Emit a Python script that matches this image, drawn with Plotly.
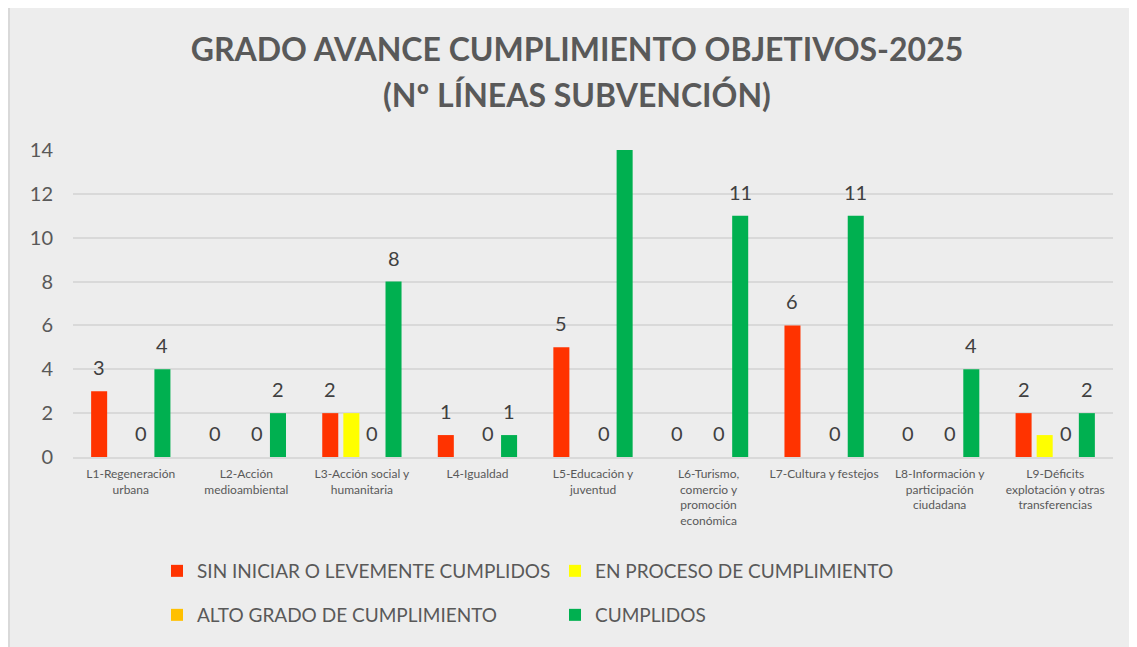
import plotly.graph_objects as go

categories = [
    "L1-Regeneración<br>urbana",
    "L2-Acción<br>medioambiental",
    "L3-Acción social y<br>humanitaria",
    "L4-Igualdad",
    "L5-Educación y<br>juventud",
    "L6-Turismo,<br>comercio y<br>promoción<br>económica",
    "L7-Cultura y festejos",
    "L8-Información y<br>participación<br>ciudadana",
    "L9-Déficits<br>explotación y otras<br>transferencias",
]
sin_iniciar = [3, 0, 2, 1, 5, 0, 6, 0, 2]
en_proceso = [0, 0, 2, 0, 0, 0, 0, 0, 1]
alto_grado = [0, 0, 0, 0, 0, 0, 0, 0, 0]
cumplidos = [4, 2, 8, 1, 14, 11, 11, 4, 2]

series_names = [
    "SIN INICIAR O LEVEMENTE CUMPLIDOS",
    "EN PROCESO DE CUMPLIMIENTO",
    "ALTO GRADO DE CUMPLIMIENTO",
    "CUMPLIDOS",
]
colors = ["#FF3300", "#FFFF00", "#FFC000", "#00B050"]
show_labels = [True, False, True, True]
legend_ids = ["legend", "legend", "legend2", "legend2"]
series_values = [sin_iniciar, en_proceso, alto_grado, cumplidos]

Y_MAX = 14
BARGAP = 0.27
BARGROUPGAP = 0.24

FONT = "Lato"
GRAY = "#595959"

# figure sits at (8,8) in the page because of the body margin
W, H = 1129, 639
L, R, T, B = 65, 24, 142, 190
pw, ph = W - L - R, H - T - B


def px_x(p):
    return (p - L) / pw


def px_y(p):
    return (H - B - p) / ph


fig = go.Figure()
for name, vals, col, lg in zip(series_names, series_values, colors, legend_ids):
    fig.add_trace(go.Bar(
        x=categories, y=vals, name=name,
        marker=dict(color=col, line=dict(width=0)),
        legend=lg,
    ))

# data labels (category-unit positions of each grouped bar)
n_series = len(series_values)
slot = (1 - BARGAP) / n_series
for j, (vals, lab) in enumerate(zip(series_values, show_labels)):
    if not lab:
        continue
    for i, v in enumerate(vals):
        if v >= Y_MAX:
            continue
        fig.add_annotation(
            x=i + (j - (n_series - 1) / 2) * slot, y=v,
            xref="x", yref="y",
            text=str(v), showarrow=False,
            xanchor="center", yanchor="middle", yshift=24,
            font=dict(family=FONT, size=20, color="#404040"),
        )

fig.add_shape(type="line", xref="paper", yref="paper",
              x0=px_x(1), x1=px_x(1), y0=px_y(H + 5), y1=px_y(-5),
              line=dict(color="#D9D9D9", width=2), layer="below")

fig.add_annotation(
    text="<b>(Nº LÍNEAS SUBVENCIÓN)</b>", xref="paper", yref="paper",
    x=px_x(569), y=px_y(87), xanchor="center", yanchor="middle",
    showarrow=False, font=dict(family=FONT, size=32, color=GRAY),
)

legend_common = dict(
    orientation="h",
    xanchor="left", yanchor="top",
    entrywidth=353, entrywidthmode="pixels",
    font=dict(family=FONT, size=19, color=GRAY),
    bgcolor="rgba(0,0,0,0)",
)

fig.update_layout(
    width=W, height=H,
    margin=dict(l=L, r=R, t=T, b=B),
    paper_bgcolor="#EDEDED",
    plot_bgcolor="rgba(0,0,0,0)",
    barmode="group",
    bargap=BARGAP,
    bargroupgap=BARGROUPGAP,
    title=dict(
        text="<b>GRADO AVANCE CUMPLIMIENTO OBJETIVOS-2025</b>",
        x=569 / W, xanchor="center", y=1 - 42 / H, yanchor="middle",
        font=dict(family=FONT, size=32, color=GRAY),
    ),
    font=dict(family=FONT, color=GRAY),
    showlegend=True,
    legend=dict(x=px_x(149), y=px_y(544), **legend_common),
    legend2=dict(x=px_x(149), y=px_y(588), **legend_common),
    xaxis=dict(
        showgrid=False,
        showline=True, linecolor="#D9D9D9", linewidth=1.5,
        tickfont=dict(family=FONT, size=12, color=GRAY),
        ticks="",
        ticklabelstandoff=5,
    ),
    yaxis=dict(
        range=[0, Y_MAX], dtick=2,
        showgrid=True, gridcolor="#D9D9D9", gridwidth=1.5,
        zeroline=False, showline=False,
        tickfont=dict(family=FONT, size=20, color=GRAY),
        ticklabelstandoff=19,
    ),
)

fig.write_html("out.html")
